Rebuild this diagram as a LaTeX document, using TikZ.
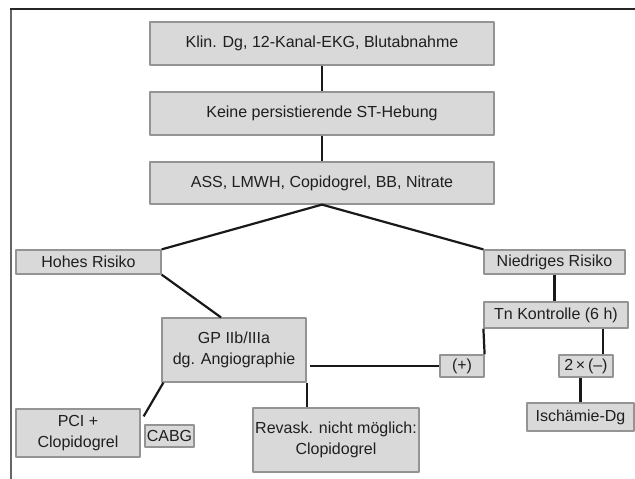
\documentclass[tikz,border=0pt]{standalone}
\usepackage{fontspec}
\setmainfont{Liberation Sans}
\usetikzlibrary{calc}
\begin{document}
\begin{tikzpicture}[x=1pt, y=-1pt, line join=round, font=\fontsize{16}{21}\selectfont,
    kasten/.style={draw=black!42, fill=black!15, line width=1.2pt, text=black!88, inner sep=0pt, align=center},
    verb/.style={line width=2.2pt, black!90}]
    \useasboundingbox (0,0) rectangle (635,479);
    \draw[black!60, line width=2.2pt] (11,479) -- (11,9);
    \draw[black!85, line width=1.5pt] (10,9) -- (635,9);
    % Stamm
    \node[kasten, minimum width=344, minimum height=43] (klin) at (322,43.5) {Klin. Dg, 12-Kanal-EKG, Blutabnahme};
    \node[kasten, minimum width=344, minimum height=43] (keine) at (322,113.5) {Keine persistierende ST-Hebung};
    \node[kasten, minimum width=344, minimum height=42] (ass) at (322,183) {ASS, LMWH, Copidogrel, BB, Nitrate};
    \node[kasten, minimum width=145, minimum height=24] (hoch) at (88.5,262) {Hohes Risiko};
    \node[kasten, minimum width=141, minimum height=24] (niedrig) at (554.5,262) {Niedriges Risiko};
    % hohes Risiko
    \node[kasten, minimum width=144, minimum height=64] (gp) at (234,350) {GP IIb/IIIa\\dg. Angiographie};
    \node[kasten, minimum width=124, minimum height=48] (pci) at (78,433) {PCI +\\Clopidogrel};
    \node[kasten, minimum width=49, minimum height=22] (cabg) at (169.5,436) {CABG};
    \node[kasten, minimum width=166, minimum height=64] (revask) at (336,440) {Revask. nicht möglich:\\Clopidogrel};
    % niedriges Risiko
    \node[kasten, minimum width=144, minimum height=26] (tn) at (556,315) {Tn Kontrolle (6 h)};
    \node[kasten, minimum width=44, minimum height=22] (plus) at (462,366) {(+)};
    \node[kasten, minimum width=54, minimum height=22] (minus) at (586,366) {2\,×\,(–)};
    \node[kasten, minimum width=107, minimum height=28] (isch) at (580.5,417) {Ischämie-Dg};
    % Verbindungen
    \draw[verb] (klin.south) -- (keine.north);
    \draw[verb] (keine.south) -- (ass.north);
    \draw[verb] (hoch.north east) -- (ass.south) -- (niedrig.north west);
    \draw[verb] (hoch.south east) -- ([xshift=-13pt]gp.north);
    \draw[verb] ([xshift=2pt]gp.south west) -- ([xshift=3pt,yshift=-8pt]pci.north east);
    \draw[verb] (gp.south east) -- (gp.south east |- revask.north);
    \draw[verb] (plus.west) -- ([xshift=3pt]plus.west -| gp.east);
    \draw[verb] (niedrig.south) -- (niedrig.south |- tn.north);
    \draw[verb] (tn.south west) -- (plus.north east);
    \draw[verb] ([xshift=-11pt]minus.north east) -- ([xshift=-11pt]minus.north east |- tn.south);
    \draw[verb] (isch.north) -- (isch.north |- minus.south);
\end{tikzpicture}
\end{document}
